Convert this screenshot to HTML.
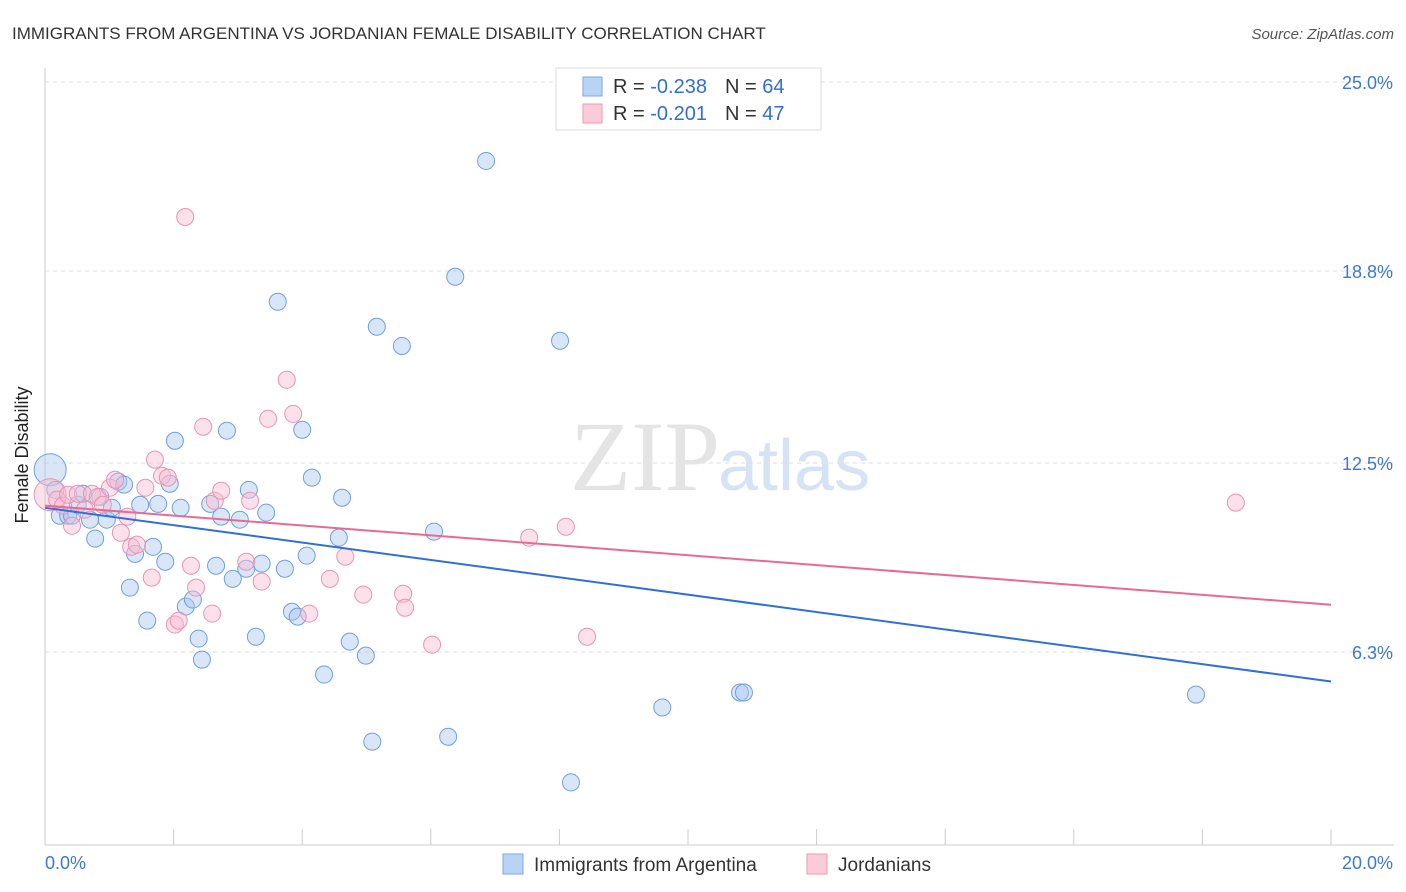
<!DOCTYPE html>
<html><head><meta charset="utf-8"><style>
body{margin:0;background:#fff;font-family:"Liberation Sans",sans-serif}
svg{display:block}
</style></head><body>
<svg id="c" width="1406" height="892">
<text x="12" y="39" font-size="17" fill="#333">IMMIGRANTS FROM ARGENTINA VS JORDANIAN FEMALE DISABILITY CORRELATION CHART</text>
<text x="1394" y="39" font-size="15" fill="#555" font-style="italic" text-anchor="end">Source: ZipAtlas.com</text>
<text x="28" y="455" font-size="18" fill="#222" text-anchor="middle" transform="rotate(-90 28 455)">Female Disability</text>
<g id="grid"></g>
<text x="720" y="490" font-size="100" fill="#e4e4e4" text-anchor="end" font-family="Liberation Serif,serif">ZIP</text>
<text x="718" y="490" font-size="72" fill="#d5e3f5">atlas</text>
<g id="axes"></g>
<g id="pts"></g>
<g id="lines"></g>
<g>
<rect x="556" y="68" width="265" height="62" fill="#fff" stroke="#ddd"/>
<rect x="583" y="77" width="19" height="19" fill="#b9d3f5" stroke="#7aa8e8"/>
<rect x="583" y="104" width="19" height="19" fill="#fbcbd9" stroke="#ee98b2"/>
<text x="613" y="93" font-size="20" fill="#333">R = <tspan fill="#2f6fd6">-0.238</tspan><tspan dx="18">N = </tspan><tspan fill="#2f6fd6">64</tspan></text>
<text x="613" y="120" font-size="20" fill="#333">R = <tspan fill="#2f6fd6">-0.201</tspan><tspan dx="18">N = </tspan><tspan fill="#2f6fd6">47</tspan></text>
</g>
<g>
<rect x="503" y="854" width="20" height="20" fill="#b9d3f5" stroke="#7aa8e8"/>
<text x="534" y="871" font-size="19" fill="#333">Immigrants from Argentina</text>
<rect x="807" y="854" width="20" height="20" fill="#fbcbd9" stroke="#ee98b2"/>
<text x="838" y="871" font-size="19" fill="#333">Jordanians</text>
</g>
</svg>
<script>
const yTicks=[25.0,18.8,12.5,6.3];
const yTickLabels=["25.0%","18.8%","12.5%","6.3%"];
const xTicks=[0,2,4,6,8,10,12,14,16,18,20];
const blueX=[0.08,0.16,0.23,0.36,0.42,0.51,0.59,0.70,0.78,0.86,0.96,1.04,1.14,1.23,1.32,1.40,1.48,1.59,1.68,1.76,1.87,1.94,2.02,2.11,2.19,2.30,2.39,2.44,2.57,2.66,2.74,2.83,2.92,3.03,3.13,3.17,3.28,3.37,3.44,3.62,3.73,3.84,3.93,4.00,4.07,4.15,4.34,4.57,4.62,4.74,4.99,5.09,5.16,5.55,6.05,6.27,6.38,6.86,8.01,8.18,9.60,10.81,10.87,17.90];
const blueY=[12.28,11.62,10.77,10.77,10.77,11.13,11.49,10.64,10.02,11.39,10.64,11.03,11.89,11.79,8.41,9.52,11.13,7.33,9.75,11.16,9.26,11.82,13.23,11.03,7.79,8.02,6.74,6.05,11.16,9.13,10.74,13.56,8.70,10.64,9.03,11.62,6.80,9.20,10.87,17.79,9.03,7.62,7.46,13.59,9.46,12.02,5.56,10.05,11.36,6.64,6.18,3.36,16.97,16.34,10.25,3.52,18.61,22.41,16.51,2.02,4.48,4.97,4.97,4.90];
const pinkX=[0.08,0.19,0.28,0.36,0.42,0.51,0.62,0.73,0.82,0.90,1.01,1.09,1.18,1.28,1.34,1.43,1.56,1.66,1.71,1.82,1.91,2.02,2.08,2.18,2.27,2.35,2.46,2.60,2.64,2.74,3.13,3.19,3.37,3.47,3.76,3.86,4.11,4.43,4.67,4.95,5.57,5.60,6.02,7.53,8.10,8.43,18.52];
const pinkY=[11.46,11.30,11.10,11.46,10.44,11.49,10.97,11.49,11.39,11.13,11.69,11.95,10.21,10.74,9.75,9.82,11.69,8.74,12.61,12.08,12.02,7.20,7.33,20.57,9.13,8.41,13.69,7.56,11.26,11.59,9.26,11.26,8.61,13.95,15.23,14.11,7.56,8.70,9.43,8.18,8.21,7.75,6.54,10.05,10.41,6.80,11.20];
const blueTrend=[11.03,5.33];
const pinkTrend=[11.10,7.85];
const NS="http://www.w3.org/2000/svg";
const sx=v=>45+v/20*1286;
const sy=v=>844-v/25*762;
function mk(p,t,a){const e=document.createElementNS(NS,t);for(const k in a)e.setAttribute(k,a[k]);p.appendChild(e);return e;}
const grid=document.getElementById('grid'),axes=document.getElementById('axes');
yTicks.forEach((v,i)=>{
 const l=mk(grid,'line',{x1:45,x2:1394,y1:sy(v),y2:sy(v),stroke:'#ddd','stroke-dasharray':'4,4'});
 
 
 const t=mk(axes,'text',{x:1393,y:sy(v)+7,'font-size':18,fill:'#3b78d8','text-anchor':'end'});
 t.textContent=yTickLabels[i];
 
 
});
const ax=mk(axes,'line',{x1:45,x2:45,y1:68,y2:845,stroke:'#ccc'});


const bx=mk(axes,'line',{x1:45,x2:1394,y1:845,y2:845,stroke:'#ccc'});


xTicks.forEach(v=>{
 const t=mk(axes,'line',{x1:sx(v),x2:sx(v),y1:829,y2:845,stroke:'#ccc'});
 
 
});
const xl0=mk(axes,'text',{x:45,y:869,'font-size':18,fill:'#3b78d8'});xl0.textContent='0.0%';


const xl1=mk(axes,'text',{x:1393,y:869,'font-size':18,fill:'#3b78d8','text-anchor':'end'});xl1.textContent='20.0%';


const pts=document.getElementById('pts');
function draw(X,Y,fill,stroke,name){
 X.forEach((x,i)=>{
  const c=mk(pts,'circle',{cx:sx(x),cy:sy(Y[i]),r:i===0?16:8.5,fill:fill,'fill-opacity':0.45,stroke:stroke,'stroke-width':1});
  
  
 });
}
draw(blueX,blueY,'#a9c8f0','#6f9fe0','point-argentina');
draw(pinkX,pinkY,'#f8bcd0','#ec92b0','point-jordanians');
const lines=document.getElementById('lines');
const lb=mk(lines,'line',{x1:sx(0),y1:sy(blueTrend[0]),x2:sx(20),y2:sy(blueTrend[1]),stroke:'#2f6fd6','stroke-width':2});


const lp=mk(lines,'line',{x1:sx(0),y1:sy(pinkTrend[0]),x2:sx(20),y2:sy(pinkTrend[1]),stroke:'#e86a94','stroke-width':2});


</script>
</body></html>
